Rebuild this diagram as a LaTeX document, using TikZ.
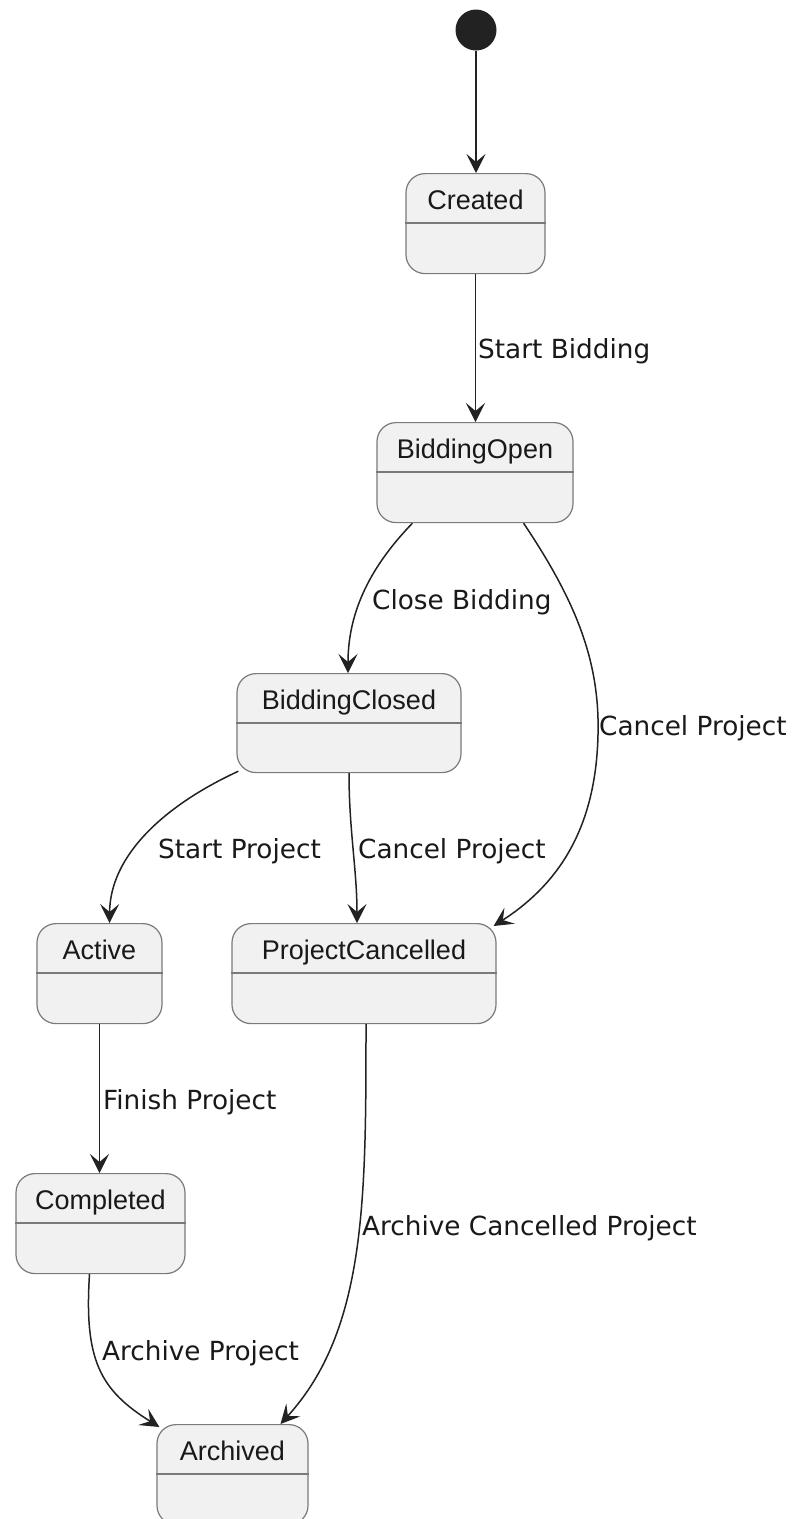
\documentclass[tikz,border=0pt]{standalone}
\usepackage{fontspec}
\setmainfont{Liberation Sans}
\newfontfamily\edgefont{DejaVu Sans}
\usetikzlibrary{arrows.meta,calc}
\definecolor{boxfill}{HTML}{F1F1F1}
\definecolor{boxline}{HTML}{7A7A7A}
\definecolor{edgecol}{HTML}{222222}
\tikzset{
  stbox/.style={draw=boxline, fill=boxfill, line width=1.2pt, rounded corners=19pt, inner sep=0pt, anchor=north},
  divline/.style={draw=boxline, line width=1.2pt},
  sttext/.style={anchor=base, inner sep=0pt, font=\fontsize{27}{30}\selectfont, text=black!90},
  edgelab/.style={anchor=base west, inner sep=0pt, font=\edgefont\fontsize{26.3}{30}\selectfont, text=black!90},
  trans/.style={draw=edgecol, line width=1.5pt, -{Stealth[length=19pt,width=19pt,inset=8pt]}},
}
\newcommand{\mkstate}[6]{% name, cx, top, width, height, label
  \node[stbox, minimum width=#4pt, minimum height=#5pt] (#1) at (#2,#3) {};
  \node[sttext] (#1-t) at ([yshift=-36pt]#1.north) {#6};
  \draw[divline] ([yshift=-50pt]#1.north west) -- ([yshift=-50pt]#1.north east);
}
\begin{document}
\begin{tikzpicture}[x=1pt,y=-1pt]
\useasboundingbox (0,0) rectangle (797,1519);
\fill[white] (0,0) rectangle (797,1519);

\node[circle, fill=edgecol, minimum size=41pt, inner sep=0pt] (start) at (476,30) {};

\mkstate{created}{475.5}{173}{139}{100}{Created}
\mkstate{bopen}{475}{422}{196}{100}{BiddingOpen}
\mkstate{bclosed}{349}{673}{224}{99}{BiddingClosed}
\mkstate{active}{99.5}{923}{125}{100}{Active}
\mkstate{pcanc}{364}{923}{264}{100}{ProjectCancelled}
\mkstate{completed}{100.5}{1173}{169}{100}{Completed}
\mkstate{archived}{232.5}{1424}{151}{100}{Archived}

% transitions
\draw[trans] (start.south) -- (start.south |- created.north);
\draw[trans] (created.south) -- (created.south |- bopen.north);
\draw[trans] ([xshift=36pt]bopen.south west) .. controls (372,565) and (348,610) .. ([xshift=-1pt]bclosed.north);
\draw[trans] ([xshift=-50pt]bopen.south east) .. controls (575,600) and (600,660) .. (598,735) .. controls (596,820) and (565,880) .. ([xshift=-3pt,yshift=-3pt]pcanc.north east);
\draw[trans] ([xshift=2pt,yshift=2pt]bclosed.south west) .. controls (165,805) and (110,855) .. ([xshift=10pt]active.north);
\draw[trans] (bclosed.south) .. controls (349,830) and (357,870) .. ([xshift=-7pt]pcanc.north);
\draw[trans] (active.south) -- (active.south |- completed.north);
\draw[trans] ([xshift=2pt]pcanc.south) .. controls (366,1200) and (366,1330) .. ([xshift=48pt]archived.north);
\draw[trans] ([xshift=-11pt]completed.south) .. controls (84,1360) and (100,1390) .. ([xshift=3pt,yshift=-3pt]archived.north west);

% labels
\node[edgelab] (l1) at (478,358) {Start Bidding};
\node[edgelab] (l2) at (372,609) {Close Bidding};
\node[edgelab] (l3) at (599,735) {Cancel Project};
\node[edgelab] (l4) at (158,858) {Start Project};
\node[edgelab] (l5) at (358,858) {Cancel Project};
\node[edgelab] (l6) at (103,1109) {Finish Project};
\node[edgelab] (l7) at (362,1235) {Archive Cancelled Project};
\node[edgelab] (l8) at (102,1360) {Archive Project};
\end{tikzpicture}
\end{document}
